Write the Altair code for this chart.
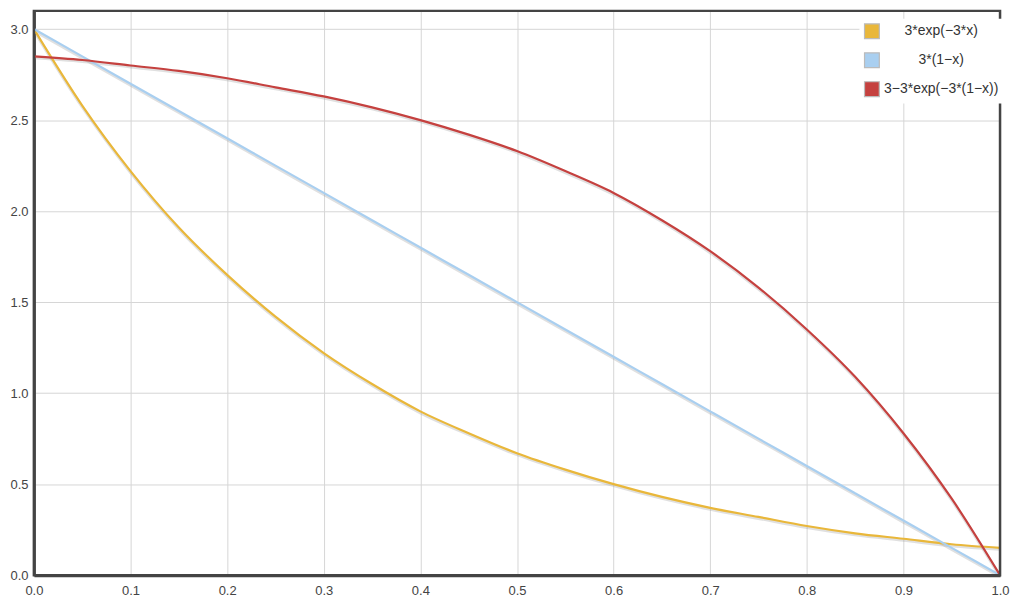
import altair as alt
import pandas as pd

x_vals = [0.0, 0.05, 0.1, 0.15, 0.2, 0.25, 0.3, 0.35, 0.4, 0.45, 0.5,
          0.55, 0.6, 0.65, 0.7, 0.75, 0.8, 0.85, 0.9, 0.95, 1.0]
yellow_vals = [3.0, 2.58, 2.22, 1.91, 1.65, 1.42, 1.22, 1.05, 0.90, 0.78, 0.67,
               0.58, 0.50, 0.43, 0.37, 0.32, 0.27, 0.23, 0.20, 0.17, 0.15]
blue_vals = [3.0, 2.85, 2.7, 2.55, 2.4, 2.25, 2.1, 1.95, 1.8, 1.65, 1.5,
             1.35, 1.2, 1.05, 0.9, 0.75, 0.6, 0.45, 0.3, 0.15, 0.0]
red_vals = [2.85, 2.83, 2.80, 2.77, 2.73, 2.68, 2.63, 2.57, 2.50, 2.42, 2.33,
            2.22, 2.10, 1.95, 1.78, 1.58, 1.35, 1.09, 0.78, 0.42, 0.0]

names = ["3*exp(−3*x)", "3*(1−x)", "3−3*exp(−3*(1−x))"]
colors = ["#E9B73A", "#A9CFF0", "#C5413F"]

W, H = 969, 566

rows = []
for name, vals in zip(names, [yellow_vals, blue_vals, red_vals]):
    for xv, yv in zip(x_vals, vals):
        rows.append({"x": xv, "y": yv, "series": name, "label": name})
df = pd.DataFrame(rows)

xs = alt.Scale(domain=[0, 1], nice=False, zero=False)
ys = alt.Scale(domain=[0, 3.1], nice=False, zero=True)

xax = alt.Axis(values=[i / 10 for i in range(11)], format=".1f", grid=True,
               ticks=False, domain=True, domainColor="#444", domainWidth=3,
               labelColor="#444", labelFontSize=13, labelPadding=9,
               gridColor="#d6d6d6", labelFlush=False, title=None)
yax = alt.Axis(values=[0, 0.5, 1.0, 1.5, 2.0, 2.5, 3.0], format=".1f", grid=True,
               ticks=False, domain=True, domainColor="#444", domainWidth=3,
               labelColor="#444", labelFontSize=13, labelPadding=6,
               gridColor="#d6d6d6", title=None)

shadow = alt.Chart(df).mark_line(strokeWidth=3, color="#999", opacity=0.3,
                                 yOffset=1.5, clip=True,
                                 interpolate="monotone").encode(
    x=alt.X("x:Q", scale=xs, axis=xax),
    y=alt.Y("y:Q", scale=ys, axis=yax),
    detail="series:N",
)

lines = alt.Chart(df).mark_line(strokeWidth=2.2, clip=True,
                                interpolate="monotone").encode(
    x=alt.X("x:Q", scale=xs),
    y=alt.Y("y:Q", scale=ys),
    stroke=alt.Stroke("series:N", sort=names,
                      scale=alt.Scale(domain=names, range=colors), legend=None),
)

legend_layer = alt.Chart(df).mark_square(size=0, clip=True).encode(
    x=alt.X("x:Q", scale=xs),
    y=alt.Y("y:Q", scale=ys),
    fill=alt.Fill("label:N", sort=names,
                  scale=alt.Scale(domain=names, range=colors),
                  legend=alt.Legend(
                      title=None, orient="none", legendX=828, legendY=8,
                      symbolType="square", symbolSize=220,
                      symbolStrokeColor="#bbbbbb", symbolStrokeWidth=1.2,
                      symbolOpacity=1,
                      labelAlign="center", labelOffset=61, labelLimit=220,
                      labelFontSize=14, labelColor="#333",
                      rowPadding=8, fillColor="white", padding=4,
                  )),
)

frame = alt.Chart(pd.DataFrame({"a": [0]})).mark_rect(
    filled=False, stroke="#444", strokeWidth=2.5
).encode(x=alt.value(0), x2=alt.value(W), y=alt.value(0), y2=alt.value(H))

chart = (shadow + lines + legend_layer + frame).properties(
    width=W, height=H,
    autosize=alt.AutoSizeParams(type="none"),
    padding={"left": 26, "top": 2, "right": 12, "bottom": 24},
).resolve_scale(fill="independent", stroke="independent").configure_view(
    stroke=None
).configure(font="Liberation Sans")

chart.save("out.html", embed_options={"renderer": "svg", "actions": False})
